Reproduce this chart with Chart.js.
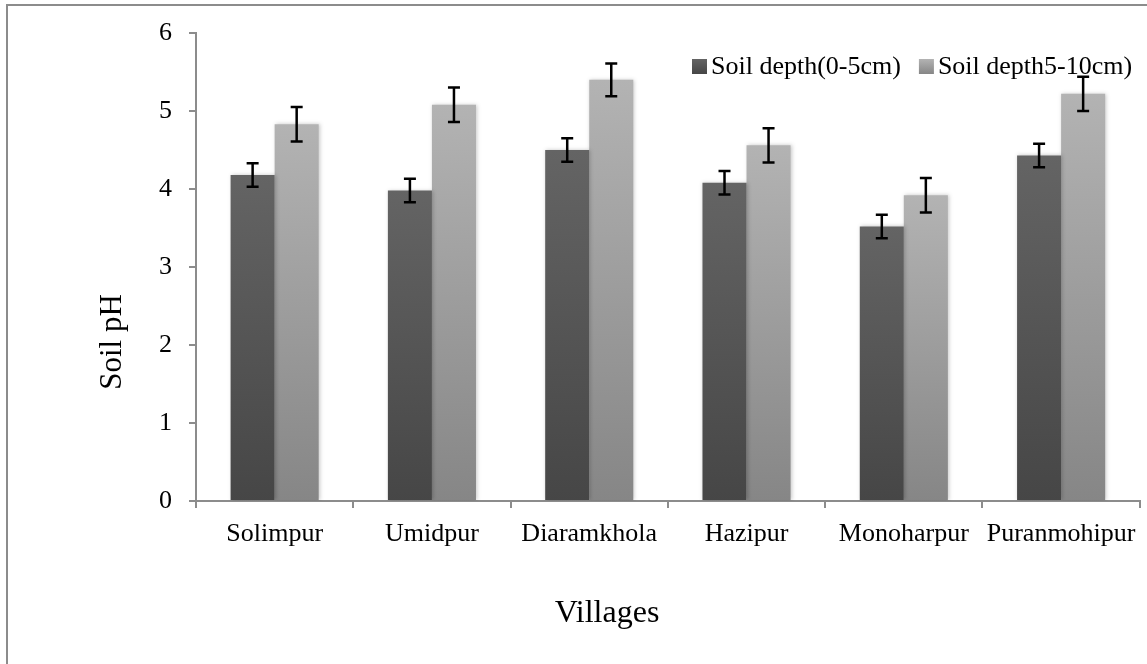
<!DOCTYPE html>
<html>
<head>
<meta charset="utf-8">
<script src="https://cdn.jsdelivr.net/npm/chart.js@4/dist/chart.umd.min.js"></script>
<style>
  html, body { margin: 0; padding: 0; background: #fff; }
  #wrap { position: relative; width: 1147px; height: 664px; }
  #frame { position: absolute; left: 6px; top: 4px; right: 0; bottom: 0; border-left: 2px solid #8c8c8c; border-top: 2px solid #8c8c8c; }
  canvas { position: absolute; left: 0; top: 0; }
</style>
</head>
<body>
<div id="wrap">
  <div id="frame"></div>
  <canvas id="c" width="1147" height="664"></canvas>
</div>
<script>
const villages = ["Solimpur", "Umidpur", "Diaramkhola", "Hazipur", "Monoharpur", "Puranmohipur"];
const seriesNames = ["Soil depth(0-5cm)", "Soil depth5-10cm)"];
const depth0to5 = [4.18, 3.98, 4.50, 4.08, 3.52, 4.43];
const depth0to5Err = [0.15, 0.15, 0.15, 0.15, 0.15, 0.15];
const depth5to10 = [4.83, 5.08, 5.40, 4.56, 3.92, 5.22];
const depth5to10Err = [0.22, 0.22, 0.21, 0.22, 0.22, 0.22];
const yTicks = [0, 1, 2, 3, 4, 5, 6];
const axisTitleY = "Soil pH";
const axisTitleX = "Villages";

const SERIF = "'Liberation Serif', 'Times New Roman', serif";
const seriesColors = [['#646464', '#464646'], ['#b3b3b3', '#868686']];

function barGradient(topCol, botCol, fallback) {
  return function(ctx) {
    const chart = ctx.chart;
    const area = chart.chartArea;
    if (!area) return fallback;
    const y = chart.scales.y;
    let yTop = area.top;
    if (ctx.type === 'data' && typeof ctx.raw === 'number') {
      yTop = y.getPixelForValue(ctx.raw);
    }
    const yBot = y.getPixelForValue(0);
    if (!(yBot > yTop)) return fallback;
    const g = chart.ctx.createLinearGradient(0, yTop, 0, yBot);
    g.addColorStop(0, topCol);
    g.addColorStop(1, botCol);
    return g;
  };
}

const errors = [depth0to5Err, depth5to10Err];

const shadowPlugin = {
  id: 'barShadow',
  beforeDatasetsDraw(chart) {
    const ctx = chart.ctx;
    ctx.save();
    ctx.shadowColor = 'rgba(0,0,0,0.22)';
    ctx.shadowBlur = 4;
    ctx.shadowOffsetX = 1;
    ctx.shadowOffsetY = 0;
  },
  afterDatasetsDraw(chart) {
    chart.ctx.restore();
  }
};

const errorBarPlugin = {
  id: 'errorBars',
  afterDatasetsDraw(chart) {
    const ctx = chart.ctx;
    const ys = chart.scales.y;
    ctx.save();
    ctx.shadowColor = 'transparent';
    ctx.strokeStyle = '#000';
    ctx.lineWidth = 2.5;
    chart.data.datasets.forEach((ds, di) => {
      const meta = chart.getDatasetMeta(di);
      meta.data.forEach((bar, i) => {
        const v = ds.data[i];
        const e = errors[di][i];
        const x = bar.x;
        const yHi = ys.getPixelForValue(v + e);
        const yLo = ys.getPixelForValue(v - e);
        const cap = 6;
        ctx.beginPath();
        ctx.moveTo(x, yHi); ctx.lineTo(x, yLo);
        ctx.moveTo(x - cap, yHi); ctx.lineTo(x + cap, yHi);
        ctx.moveTo(x - cap, yLo); ctx.lineTo(x + cap, yLo);
        ctx.stroke();
      });
    });
    ctx.restore();
  }
};

const legendPlugin = {
  id: 'insideLegend',
  afterDraw(chart) {
    const ctx = chart.ctx;
    ctx.save();
    ctx.font = "26px " + SERIF;
    ctx.textBaseline = 'middle';
    ctx.textAlign = 'left';
    const cy = 66;
    let x = 692;
    chart.data.datasets.forEach((ds, di) => {
      const g = ctx.createLinearGradient(0, cy - 7, 0, cy + 8);
      g.addColorStop(0, seriesColors[di][0]);
      g.addColorStop(1, seriesColors[di][1]);
      ctx.fillStyle = g;
      ctx.fillRect(x, cy - 7, 15, 15);
      ctx.fillStyle = '#000';
      ctx.fillText(ds.label, x + 19, cy + 1);
      x += 19 + ctx.measureText(ds.label).width + 18;
    });
    ctx.restore();
  }
};

const axisTitlePlugin = {
  id: 'axisTitles',
  afterDraw(chart) {
    const ctx = chart.ctx;
    ctx.save();
    ctx.fillStyle = '#000';
    ctx.textAlign = 'center';
    ctx.textBaseline = 'middle';
    ctx.font = "31px " + SERIF;
    ctx.translate(113, 342);
    ctx.rotate(-Math.PI / 2);
    ctx.fillText(axisTitleY, 0, 0);
    ctx.restore();
    ctx.save();
    ctx.fillStyle = '#000';
    ctx.textAlign = 'center';
    ctx.textBaseline = 'middle';
    ctx.font = "32px " + SERIF;
    ctx.fillText(axisTitleX, 607, 614);
    ctx.restore();
  }
};

new Chart(document.getElementById('c'), {
  type: 'bar',
  data: {
    labels: villages,
    datasets: [
      {
        label: seriesNames[0],
        data: depth0to5,
        backgroundColor: barGradient(seriesColors[0][0], seriesColors[0][1], '#555555'),
        borderWidth: 0
      },
      {
        label: seriesNames[1],
        data: depth5to10,
        backgroundColor: barGradient(seriesColors[1][0], seriesColors[1][1], '#a0a0a0'),
        borderWidth: 0
      }
    ]
  },
  options: {
    responsive: false,
    animation: false,
    devicePixelRatio: 1,
    layout: { padding: { top: 33, right: 6, left: 0, bottom: 0 } },
    datasets: { bar: { categoryPercentage: 0.56, barPercentage: 1.0 } },
    plugins: {
      legend: { display: false },
      tooltip: { enabled: false }
    },
    scales: {
      x: {
        afterFit(s) { s.height = 163; },
        grid: { display: true, drawOnChartArea: false, drawTicks: true, tickLength: 7, color: '#8c8c8c', lineWidth: 2, offset: true },
        border: { display: true, color: '#8c8c8c', width: 2 },
        ticks: { font: { family: SERIF, size: 26 }, color: '#000', padding: 11, maxRotation: 0, autoSkip: false }
      },
      y: {
        min: 0,
        max: 6,
        afterFit(s) { s.width = 196; },
        afterBuildTicks(s) { s.ticks = yTicks.map(v => ({ value: v })); },
        grid: { display: true, drawOnChartArea: false, drawTicks: true, tickLength: 7, color: '#8c8c8c', lineWidth: 2 },
        border: { display: true, color: '#8c8c8c', width: 2 },
        ticks: { font: { family: SERIF, size: 26 }, color: '#000', padding: 17 }
      }
    }
  },
  plugins: [shadowPlugin, errorBarPlugin, legendPlugin, axisTitlePlugin]
});
</script>
</body>
</html>
